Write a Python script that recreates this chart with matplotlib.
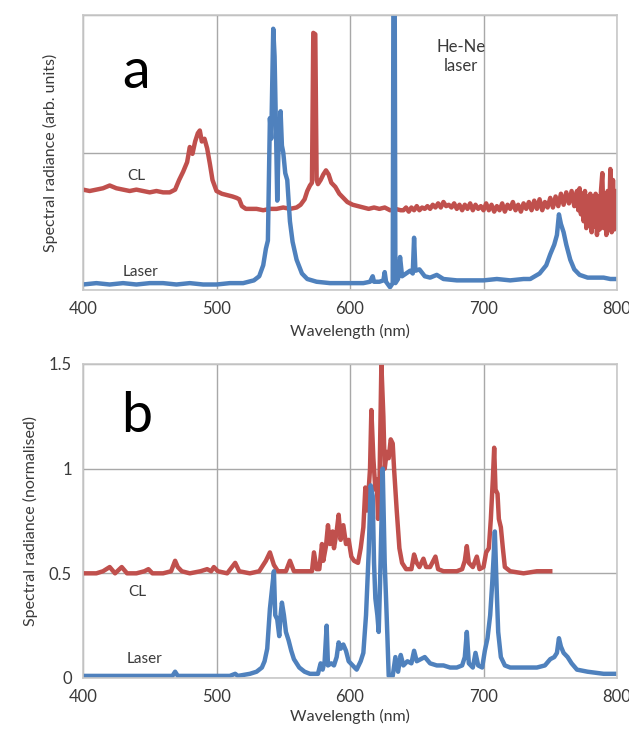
import matplotlib
matplotlib.use("Agg")
import matplotlib.pyplot as plt
import numpy as np

plt.rcParams['font.family'] = ['Lato', 'DejaVu Sans']

RED = '#C0504D'
BLUE = '#4F81BD'
GRID = '#A8A8A8'
SPINE = '#C8C8C8'
TXT = '#3A3A3A'

# ---------------- Panel a data ----------------
a_cl_wl = [400, 405, 410, 415, 420, 425, 430, 435, 440, 445, 450, 455, 460, 465, 469,
           472, 475, 478, 480, 482, 484, 486, 487.5, 489, 491, 493, 495, 497, 500, 504,
           508, 512, 515, 517, 519, 522, 526, 530, 535, 540, 545, 550, 555, 560, 563,
           566, 568, 570, 571.5, 572.5, 574, 575, 576, 578, 580, 582, 584, 586, 589,
           592, 595, 598, 602, 606, 610, 614, 618, 622, 626, 630, 634, 638,
           640, 642, 644, 646, 648, 650, 652, 654, 656, 658, 660, 662, 664, 666, 668,
           670, 672, 674, 676, 678, 680, 682, 684, 686, 688, 690, 692, 694, 696, 698,
           700, 702, 704, 706, 708, 710, 712, 714, 716, 718, 720, 722, 724, 726, 728,
           730, 732, 734, 736, 738, 740, 742, 744, 746, 748, 750, 752, 754, 756, 758,
           760, 762, 764, 766, 768, 770, 771, 772, 773, 774, 775, 776, 777, 778, 779,
           780, 781, 782, 783, 784, 785, 786, 787, 788, 789, 790, 791, 792, 793, 794,
           795, 796, 797, 798, 799, 800]
a_cl_val = [0.73, 0.72, 0.73, 0.74, 0.76, 0.74, 0.73, 0.72, 0.73, 0.72, 0.71, 0.72, 0.71, 0.71, 0.73,
            0.80, 0.86, 0.93, 1.04, 0.99, 1.08, 1.14, 1.16, 1.08, 1.10, 1.03, 0.92, 0.80, 0.72, 0.70,
            0.69, 0.68, 0.67, 0.66, 0.61, 0.59, 0.59, 0.59, 0.58, 0.59, 0.59, 0.60, 0.59, 0.60, 0.62,
            0.66, 0.72, 0.76, 0.78, 1.87, 1.86, 0.80, 0.77, 0.80, 0.84, 0.87, 0.84, 0.78, 0.75,
            0.70, 0.67, 0.64, 0.62, 0.61, 0.60, 0.59, 0.60, 0.59, 0.60, 0.58, 0.59, 0.58,
            0.58, 0.60, 0.57, 0.60, 0.58, 0.61, 0.58, 0.60, 0.59, 0.61, 0.59, 0.62, 0.60, 0.63, 0.60,
            0.64, 0.61, 0.62, 0.60, 0.63, 0.59, 0.62, 0.58, 0.62, 0.59, 0.63, 0.58, 0.62, 0.59, 0.61,
            0.58, 0.63, 0.58, 0.62, 0.57, 0.61, 0.58, 0.63, 0.57, 0.62, 0.59, 0.64, 0.58, 0.62, 0.57,
            0.63, 0.59, 0.64, 0.58, 0.65, 0.59, 0.66, 0.58, 0.64, 0.60, 0.67, 0.60, 0.68, 0.61, 0.70,
            0.62, 0.71, 0.63, 0.72, 0.61, 0.72, 0.58, 0.74, 0.55, 0.70, 0.50, 0.72, 0.45, 0.68, 0.48,
            0.70, 0.42, 0.66, 0.46, 0.70, 0.40, 0.68, 0.44, 0.72, 0.85, 0.45, 0.70, 0.40, 0.72, 0.45,
            0.88, 0.42, 0.80, 0.44, 0.72, 0.48]

a_laser_wl = [400, 410, 420, 430, 440, 450, 460, 470, 480, 490, 500, 510, 520, 528, 532,
              535, 537, 538.5, 540, 541, 542.5, 543.5, 544.5, 545.5, 546.5, 548, 549, 550,
              551.5, 553, 555, 557, 560, 564, 568, 575, 585, 600, 610, 615, 617, 618, 622,
              625, 626, 627, 630, 632, 632.5, 633.5, 634, 636, 637.5, 639, 642, 645, 647,
              648, 649, 652, 656, 660, 665, 670, 680, 690, 700, 710, 720, 730, 735, 742,
              747, 750, 753, 755, 756.5, 758, 760, 762, 765, 768, 772, 778, 785, 790, 795, 800]
a_laser_val = [0.04, 0.05, 0.04, 0.05, 0.04, 0.05, 0.05, 0.04, 0.05, 0.04, 0.04, 0.05, 0.05, 0.07, 0.10,
               0.18, 0.30, 0.36, 1.25, 1.10, 1.90, 1.70, 1.20, 0.65, 1.05, 1.30, 1.05, 1.00,
               0.85, 0.80, 0.50, 0.35, 0.22, 0.12, 0.08, 0.06, 0.05, 0.05, 0.05, 0.06, 0.10, 0.06, 0.06,
               0.07, 0.13, 0.06, 0.02, 0.05, 2.10, 2.10, 0.05, 0.08, 0.24, 0.10, 0.12, 0.14, 0.12,
               0.38, 0.14, 0.15, 0.10, 0.09, 0.11, 0.08, 0.07, 0.07, 0.07, 0.08, 0.07, 0.08, 0.08, 0.12,
               0.18, 0.26, 0.33, 0.40, 0.55, 0.48, 0.42, 0.33, 0.22, 0.15, 0.11, 0.09, 0.09, 0.09, 0.08, 0.08]

# ---------------- Panel b data ----------------
b_cl_wl = [400, 410, 415, 420, 424, 429, 433, 440, 446, 449, 452, 460, 466, 469, 471, 474,
           480, 488, 493, 496, 498, 501, 508, 514, 517, 525, 532, 537, 540, 543, 546, 552,
           555, 558, 565, 571.5, 573, 575, 577, 579, 580, 582, 583.5, 585, 587, 588, 590,
           591.5, 593, 595, 597, 599, 601, 603, 606, 608, 610, 611.5, 613, 615, 616, 617.5,
           619, 620, 621, 622, 623.5, 625, 626, 627.5, 629, 630.5, 632, 633, 635, 637, 639,
           642, 646, 648, 650, 652, 655, 657, 660, 664, 666, 670, 680, 684, 686, 687.5, 689,
           692, 695, 697, 700, 702, 704, 705.5, 707, 708, 709, 710.5, 711.5, 713, 714.5, 716,
           720, 730, 740, 750]
b_cl_val = [0.50, 0.50, 0.51, 0.53, 0.50, 0.53, 0.50, 0.50, 0.51, 0.52, 0.50, 0.50, 0.51, 0.56, 0.53, 0.51,
            0.50, 0.51, 0.52, 0.51, 0.53, 0.51, 0.50, 0.55, 0.51, 0.50, 0.51, 0.56, 0.60, 0.54, 0.51, 0.51,
            0.56, 0.51, 0.51, 0.51, 0.60, 0.52, 0.52, 0.64, 0.56, 0.63, 0.73, 0.64, 0.70, 0.62, 0.70,
            0.78, 0.66, 0.73, 0.64, 0.66, 0.58, 0.56, 0.55, 0.62, 0.72, 0.91, 0.80, 1.00, 1.28, 1.05,
            0.90, 0.95, 0.76, 0.90, 1.50, 1.25, 1.00, 1.08, 1.05, 1.14, 1.12, 1.00, 0.80, 0.62, 0.55,
            0.52, 0.52, 0.59, 0.55, 0.53, 0.57, 0.53, 0.53, 0.58, 0.52, 0.51, 0.51, 0.52, 0.56, 0.63, 0.55,
            0.53, 0.58, 0.52, 0.53, 0.60, 0.62, 0.76, 0.95, 1.10, 0.90, 0.88, 0.76, 0.72, 0.62, 0.53,
            0.51, 0.50, 0.51, 0.51]

b_laser_wl = [400, 420, 440, 460, 467, 469, 471, 490, 510, 514, 516, 525, 530, 534, 536, 538,
              540, 541.5, 543, 544, 545.5, 547, 548, 549, 550.5, 552, 554, 556, 558, 562, 566,
              570, 576, 578, 579.5, 581, 582.5, 583.5, 586, 588, 590, 591.5, 593, 595, 597, 599,
              602, 605, 608, 610, 612, 614, 615.5, 617, 618, 619, 620.5, 621.5, 622.5, 624.5,
              626, 627, 628, 629, 632, 634, 636, 638, 640, 643, 646, 648, 650, 653, 656, 660,
              665, 670, 675, 680, 684, 686, 687.5, 689, 692, 694, 696, 699, 701, 703, 705,
              706.5, 707.5, 708.5, 710, 711, 713, 716, 720, 730, 740, 746, 750, 753, 755, 756.5,
              758, 760, 763, 766, 770, 778, 790, 800]
b_laser_val = [0.01, 0.01, 0.01, 0.01, 0.01, 0.03, 0.01, 0.01, 0.01, 0.02, 0.01, 0.02, 0.03, 0.05, 0.08, 0.14,
               0.33, 0.42, 0.51, 0.30, 0.28, 0.20, 0.30, 0.36, 0.30, 0.22, 0.18, 0.13, 0.09, 0.05, 0.03,
               0.02, 0.02, 0.07, 0.04, 0.08, 0.25, 0.06, 0.07, 0.06, 0.10, 0.17, 0.14, 0.16, 0.13, 0.08,
               0.06, 0.04, 0.08, 0.12, 0.30, 0.60, 0.92, 0.87, 0.55, 0.38, 0.30, 0.22, 0.45, 1.00,
               0.55, 0.38, 0.20, 0.01, 0.01, 0.10, 0.03, 0.11, 0.06, 0.08, 0.07, 0.13, 0.08, 0.09, 0.10, 0.07,
               0.06, 0.06, 0.05, 0.05, 0.06, 0.10, 0.22, 0.07, 0.05, 0.12, 0.06, 0.05, 0.13, 0.19, 0.30,
               0.45, 0.57, 0.70, 0.40, 0.22, 0.10, 0.06, 0.05, 0.05, 0.05, 0.06, 0.09, 0.10, 0.12, 0.19,
               0.15, 0.12, 0.10, 0.07, 0.04, 0.03, 0.02, 0.02]

x_ticks = [400, 500, 600, 700, 800]
b_y_ticks = [0, 0.5, 1, 1.5]
b_y_labels = ['0', '0.5', '1', '1.5']

W, H = 629, 733
fig = plt.figure(figsize=(W / 100, H / 100), dpi=100)


def px_axes(left, top, right, bottom):
    return fig.add_axes([left / W, 1 - bottom / H, (right - left) / W, (bottom - top) / H])


def style(ax):
    ax.set_xlim(400, 800)
    ax.set_xticks(x_ticks)
    ax.grid(True, color=GRID, lw=1.0)
    ax.set_axisbelow(True)
    for s in ax.spines.values():
        s.set_color(SPINE)
        s.set_linewidth(1.2)
    ax.tick_params(length=0, labelsize=12, colors=TXT, pad=8)


LW = 3.2

# Panel a
ax1 = px_axes(83, 15, 617, 290)
style(ax1)
ax1.set_ylim(0, 2)
ax1.set_yticks([0, 1, 2])
ax1.set_yticklabels([])
ax1.plot(a_cl_wl, a_cl_val, color=RED, lw=LW, solid_joinstyle='round')
ax1.plot(a_laser_wl, a_laser_val, color=BLUE, lw=LW, solid_joinstyle='round')
ax1.set_xlabel('Wavelength (nm)', fontsize=11.5, color=TXT, labelpad=5)
ax1.set_ylabel('Spectral radiance (arb. units)', fontsize=11.5, color=TXT, labelpad=10)
ax1.text(440, 0.83, 'CL', fontsize=11, color=TXT, ha='center', va='center')
ax1.text(443, 0.13, 'Laser', fontsize=11, color=TXT, ha='center', va='center')
ax1.text(683, 1.70, 'He-Ne\nlaser', fontsize=12, color=TXT, ha='center', va='center',
         linespacing=1.25)
ax1.text(440, 1.58, 'a', fontsize=40, color='black', ha='center', va='center')

# Panel b
ax2 = px_axes(83, 364, 617, 678)
style(ax2)
ax2.set_ylim(0, 1.5)
ax2.set_yticks(b_y_ticks)
ax2.set_yticklabels(b_y_labels)
ax2.plot(b_cl_wl, b_cl_val, color=RED, lw=LW, solid_joinstyle='round')
ax2.plot(b_laser_wl, b_laser_val, color=BLUE, lw=LW, solid_joinstyle='round')
ax2.set_xlabel('Wavelength (nm)', fontsize=11.5, color=TXT, labelpad=3)
ax2.set_ylabel('Spectral radiance (normalised)', fontsize=11.5, color=TXT, labelpad=8)
ax2.text(441, 0.41, 'CL', fontsize=11, color=TXT, ha='center', va='center')
ax2.text(446, 0.09, 'Laser', fontsize=11, color=TXT, ha='center', va='center')
ax2.text(440, 1.25, 'b', fontsize=40, color='black', ha='center', va='center')

fig.savefig('out.png', dpi=100)
